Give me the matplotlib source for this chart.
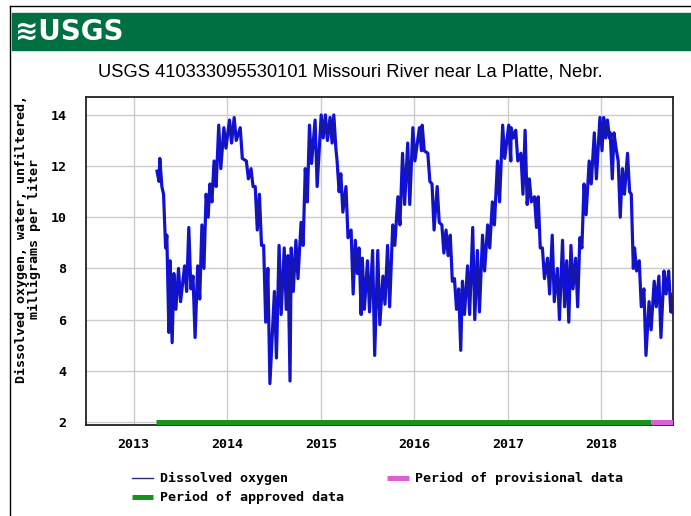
import numpy as np
import matplotlib.pyplot as plt
from matplotlib.lines import Line2D
from matplotlib.patches import Rectangle

# half-month windows (decimal year) with lowest / highest reading seen in each
dates = [2013.26, 2013.29, 2013.33, 2013.365, 2013.40, 2013.44, 2013.49, 2013.555, 2013.60, 2013.645,
         2013.695, 2013.74, 2013.785, 2013.825, 2013.87, 2013.92, 2013.975, 2014.035, 2014.085, 2014.15,
         2014.215, 2014.265, 2014.31, 2014.355, 2014.40, 2014.445, 2014.515, 2014.565, 2014.62, 2014.66,
         2014.695, 2014.745, 2014.80, 2014.845, 2014.89, 2014.95, 2015.015, 2015.06, 2015.11,
         2015.15, 2015.185, 2015.225, 2015.28, 2015.335, 2015.38, 2015.42, 2015.455, 2015.51, 2015.565,
         2015.62, 2015.675, 2015.725, 2015.78, 2015.835, 2015.885, 2015.94, 2015.995, 2016.065,
         2016.095, 2016.155, 2016.20, 2016.255, 2016.305, 2016.35, 2016.395, 2016.44, 2016.485, 2016.525,
         2016.58, 2016.635, 2016.685, 2016.74, 2016.795, 2016.845, 2016.90, 2016.955, 2017.02,
         2017.045, 2017.095, 2017.15, 2017.195, 2017.24, 2017.295, 2017.335, 2017.38, 2017.435, 2017.485,
         2017.54, 2017.595, 2017.64, 2017.685, 2017.735, 2017.78, 2017.825, 2017.88, 2017.935, 2017.995,
         2018.035, 2018.075, 2018.105, 2018.145, 2018.19, 2018.235, 2018.29, 2018.33, 2018.365, 2018.415,
         2018.465, 2018.52, 2018.575, 2018.625, 2018.68, 2018.73, 2018.75]
do_low = [11.4, 11.2, 8.8, 5.5, 5.1, 6.4, 6.7, 7.1, 7.2, 5.3,
          6.8, 8.0, 10.0, 10.6, 11.2, 11.9, 12.7, 12.9, 13.0, 12.3,
          11.5, 11.2, 9.5, 8.9, 5.9, 3.5, 4.5, 6.2, 6.4, 3.6,
          7.1, 7.6, 8.9, 10.6, 12.1, 11.2, 13.1, 13.0, 12.9,
          12.7, 11.0, 10.2, 9.2, 7.0, 7.8, 6.2, 6.4, 6.3, 4.6,
          5.8, 6.6, 6.5, 8.9, 9.7, 10.5, 10.5, 12.2, 12.6,
          12.6, 11.4, 9.5, 9.8, 8.6, 8.5, 7.5, 6.4, 4.8, 6.2,
          6.2, 6.0, 6.3, 7.9, 8.8, 9.7, 10.6, 12.3, 12.2,
          13.1, 12.2, 10.9, 10.5, 10.6, 9.6, 8.8, 7.6, 7.0, 6.7,
          6.0, 6.5, 5.9, 7.2, 6.5, 8.8, 10.1, 11.3, 11.5, 12.6,
          13.1, 13.1, 11.5, 12.7, 10.0, 10.9, 11.0, 8.0, 7.9, 6.5,
          4.6, 5.6, 6.5, 5.3, 7.0, 6.3, 6.3]
do_high = [11.8, 12.3, 10.9, 9.3, 8.3, 7.8, 8.0, 8.1, 9.6, 7.7,
           8.1, 9.7, 10.9, 11.3, 12.2, 13.6, 13.5, 13.8, 13.9, 13.5,
           12.2, 11.9, 11.2, 10.9, 8.9, 8.0, 7.1, 8.9, 8.8, 8.5,
           8.8, 9.1, 9.8, 11.9, 13.6, 13.8, 14.0, 14.0, 13.9,
           14.0, 12.2, 11.7, 11.2, 9.5, 9.1, 8.8, 8.4, 8.3, 8.7,
           8.7, 7.7, 8.9, 9.7, 10.8, 12.5, 12.9, 13.5, 13.5,
           13.6, 12.5, 11.3, 11.2, 9.7, 9.5, 9.3, 7.6, 7.2, 7.5,
           8.1, 9.6, 8.7, 9.3, 9.7, 10.6, 12.2, 13.6, 13.6,
           13.5, 13.4, 12.5, 13.4, 11.5, 10.8, 10.8, 8.8, 8.4, 9.3,
           8.0, 9.1, 8.3, 8.9, 8.4, 9.2, 11.3, 12.2, 13.3, 13.9,
           13.9, 13.8, 13.3, 13.3, 12.2, 11.9, 12.5, 10.9, 8.8, 8.3,
           7.2, 6.7, 7.5, 7.7, 7.9, 7.9, 7.0]

approved = [2013.24, 2018.53]
provisional = [2018.53, 2018.765]
years = [2013, 2014, 2015, 2016, 2017, 2018]
yticks = [2, 4, 6, 8, 10, 12, 14]

mono = {'family': 'DejaVu Sans Mono', 'weight': 'bold', 'size': 9.6}

fig = plt.figure(figsize=(6.91, 5.16), dpi=100)

# header band with logo
fig.lines.append(Line2D([10/691, 10/691], [0, 1 - 6/516], transform=fig.transFigure, color='black', lw=1))
fig.lines.append(Line2D([10/691, 1], [1 - 6/516, 1 - 6/516], transform=fig.transFigure, color='black', lw=1))
fig.patches.append(Rectangle((12/691, 1 - 50/516), 1, 37/516, transform=fig.transFigure,
                             color='#006f41', zorder=0))
fig.text(15/691, 1 - 32/516, '\u224bUSGS', color='white', fontsize=20, fontweight='bold',
         family=['DejaVu Sans'], va='center', ha='left')
fig.text(350/691, 1 - 72/516, 'USGS 410333095530101 Missouri River near La Platte, Nebr.',
         family=['Liberation Sans', 'DejaVu Sans'], fontsize=13.2, ha='center', va='center')

ax = fig.add_axes([86/691, 1 - 425/516, 587/691, 328/516])

# daily readings: line swings between each window's high and low
t = np.array(dates)
xs = np.column_stack([t - 0.011, t + 0.011]).ravel()
ys = np.column_stack([do_high, do_low]).ravel()
ax.plot(xs, ys, color='#0f0fe6', lw=2.3, zorder=2)
ax.plot(xs, ys, color='#1a1a8c', lw=0.6, zorder=3)

ax.plot(approved, [2.0, 2.0], color='#17951b', lw=3.6, solid_capstyle='butt', zorder=4)
ax.plot(provisional, [2.0, 2.0], color='#dd5fd6', lw=3.6, solid_capstyle='butt', zorder=4)

ax.set_xlim(2012.49, 2018.765)
ax.set_ylim(1.88, 14.7)
ax.set_xticks(years)
ax.set_xticklabels([str(y) for y in years], fontdict=mono)
ax.set_yticks(yticks)
ax.set_yticklabels([str(v) for v in yticks], fontdict=mono)
ax.tick_params(length=0, axis='y', pad=14)
ax.tick_params(length=0, axis='x', pad=9)
ax.grid(True, color='#cccccc', lw=1)
ax.set_axisbelow(True)
for s in ax.spines.values():
    s.set_color('#222222')
    s.set_linewidth(1.3)

fig.text(28/691, 1 - 239/516, 'Dissolved oxygen, water, unfiltered,\nmilligrams per liter',
         fontdict=mono, rotation=90, ha='center', va='center', multialignment='center',
         linespacing=1.05)

# legend drawn by hand, two columns
fig.lines.append(Line2D([132/691, 153/691], [1 - 478/516] * 2, transform=fig.transFigure,
                        color='#2a2a80', lw=1))
fig.text(160/691, 1 - 478/516, 'Dissolved oxygen', fontdict=mono, va='center')
fig.lines.append(Line2D([132/691, 153/691], [1 - 497/516] * 2, transform=fig.transFigure,
                        color='#17951b', lw=3.6, solid_capstyle='butt'))
fig.text(160/691, 1 - 497/516, 'Period of approved data', fontdict=mono, va='center')
fig.lines.append(Line2D([387/691, 409/691], [1 - 478/516] * 2, transform=fig.transFigure,
                        color='#dd5fd6', lw=3.6, solid_capstyle='butt'))
fig.text(415/691, 1 - 478/516, 'Period of provisional data', fontdict=mono, va='center')

fig.savefig('out.png', dpi=100)
